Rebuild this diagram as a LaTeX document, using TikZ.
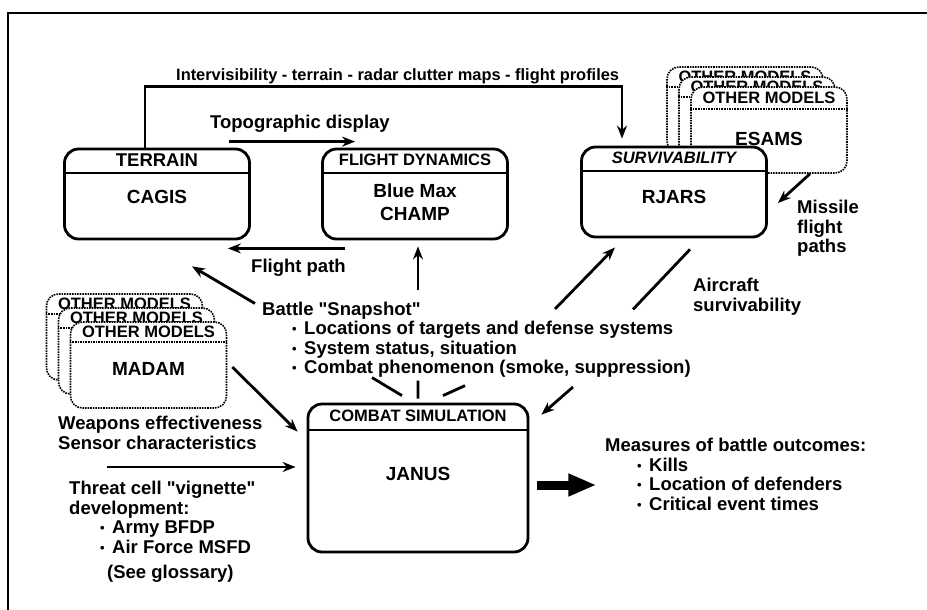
\documentclass[tikz,border=0pt]{standalone}
\usepackage{fontspec}
\setmainfont{Liberation Sans}
\usetikzlibrary{arrows.meta}
\tikzset{>={Stealth[length=13pt,width=10pt]}}
\tikzset{
  model/.style={draw, line width=2.8pt, fill=white, rounded corners=14pt,
    minimum width=185pt, minimum height=90pt, inner sep=0pt},
  card/.style={draw, densely dotted, line width=1.6pt, fill=white,
    rounded corners=12pt, minimum width=156pt, minimum height=86pt, inner sep=0pt},
  head/.style={font=\bfseries\fontsize{16.5}{18}\selectfont, inner sep=0pt},
  body/.style={font=\bfseries\fontsize{19}{23}\selectfont, inner sep=0pt, align=center},
  txt/.style={font=\bfseries\fontsize{18.5}{19.5}\selectfont, inner sep=0pt,
    align=left, anchor=north west},
  flow/.style={->, line width=2.8pt},
}
\newcommand{\bul}{\makebox[12pt][l]{\raisebox{1pt}{\fontsize{13}{13}\selectfont\textbullet}}}
\newcommand{\qq}{\textquotedbl}

\begin{document}
\begin{tikzpicture}[x=1pt, y=-1pt]
  \useasboundingbox (0,0) rectangle (927,610);
  \draw[line width=2pt] (8,610) -- (8,13) -- (927,13);

  % terrain and flight dynamics models
  \node[model] (terrain) at (157,194) {};
  \draw[line width=2.2pt] ([yshift=-25pt]terrain.north west) -- ([yshift=-25pt]terrain.north east);
  \node[head, font=\bfseries\fontsize{18.5}{20}\selectfont] (terrain-h) at ([yshift=-12.5pt]terrain.north) {TERRAIN};
  \node[body] (cagis) at ([yshift=-49pt]terrain.north) {CAGIS};

  \node[model] (fd) at (415,194) {};
  \draw[line width=2.2pt] ([yshift=-25pt]fd.north west) -- ([yshift=-25pt]fd.north east);
  \node[head] (fd-h) at ([yshift=-12.5pt]fd.north) {FLIGHT DYNAMICS};
  \node[body] (bluemax) at ([yshift=-55pt]fd.north) {Blue Max\\CHAMP};

  % other models behind survivability
  \foreach \i/\x/\y in {2/745/110, 1/757/120} {
    \node[card] (esams-\i) at (\x,\y) {};
    \draw[densely dotted, line width=1.6pt] ([yshift=-21pt]esams-\i.north west) -- ([yshift=-21pt]esams-\i.north east);
    \node[head] at ([yshift=-10.5pt]esams-\i.north) {OTHER MODELS};
  }
  \node[card] (esams) at (769,130) {};
  \draw[densely dotted, line width=1.6pt] ([yshift=-23pt]esams.north west) -- ([yshift=-23pt]esams.north east);
  \node[head] (esams-h) at ([yshift=-11.5pt]esams.north) {OTHER MODELS};
  \node[body] (esams-t) at ([yshift=-53pt]esams.north) {ESAMS};

  \node[model] (rjars) at (674,192) {};
  \draw[line width=2.2pt] ([yshift=-25pt]rjars.north west) -- ([yshift=-25pt]rjars.north east);
  \node[head, font=\bfseries\itshape\fontsize{16.5}{18}\selectfont] (rjars-h) at ([yshift=-12.5pt]rjars.north) {SURVIVABILITY};
  \node[body] (rjars-t) at ([yshift=-51pt]rjars.north) {RJARS};

  % other models for janus
  \foreach \i/\x/\y in {2/124.5/337, 1/136.5/351} {
    \node[card] (madam-\i) at (\x,\y) {};
    \draw[densely dotted, line width=1.6pt] ([yshift=-21pt]madam-\i.north west) -- ([yshift=-21pt]madam-\i.north east);
    \node[head] at ([yshift=-10.5pt]madam-\i.north) {OTHER MODELS};
  }
  \node[card] (madam) at (148.5,365) {};
  \draw[densely dotted, line width=1.6pt] ([yshift=-21pt]madam.north west) -- ([yshift=-21pt]madam.north east);
  \node[head] (madam-h) at ([yshift=-10.5pt]madam.north) {OTHER MODELS};
  \node[body] (madam-t) at ([yshift=-48pt]madam.north) {MADAM};

  \node[model, minimum width=220pt, minimum height=148pt] (combat) at (418,478) {};
  \draw[line width=2.2pt] ([yshift=-27pt]combat.north west) -- ([yshift=-27pt]combat.north east);
  \node[head] (combat-h) at ([yshift=-13.5pt]combat.north) {COMBAT SIMULATION};
  \node[body] (janus) at ([yshift=4pt]combat.center) {JANUS};

  % labels
  \node[txt, font=\bfseries\fontsize{16.4}{18}\selectfont] (links) at (176,68)
       {Intervisibility - terrain - radar clutter maps - flight profiles};
  \node[txt] (topo) at (210,114.5) {Topographic display};
  \node[txt] (fpath) at (251,258.5) {Flight path};
  \node[txt] (snap) at (262,301.5) {Battle \qq Snapshot\qq\\
       \hspace*{30pt}\bul Locations of targets and defense systems\\
       \hspace*{30pt}\bul System status, situation\\
       \hspace*{30pt}\bul Combat phenomenon (smoke, suppression)};
  \node[txt] (acsurv) at (693,278) {Aircraft\\survivability};
  \node[txt] (missile) at (797,200) {Missile\\flight\\paths};
  \node[txt] (weapons) at (58,416) {Weapons effectiveness\\Sensor characteristics};
  \node[txt] (threat) at (69,481) {Threat cell \qq vignette\qq\\development:\\
       \hspace*{31pt}\bul Army BFDP\\
       \hspace*{31pt}\bul Air Force MSFD\\[6pt]
       \hspace*{38pt}(See glossary)};
  \node[txt] (measures) at (605,438) {Measures of battle outcomes:\\
       \hspace*{32pt}\bul Kills\\
       \hspace*{32pt}\bul Location of defenders\\
       \hspace*{32pt}\bul Critical event times};

  % flows
  \draw[flow, line width=2.2pt] ([xshift=-12pt]terrain.north) -- ++(0,-61) -| ([xshift=-52pt,yshift=7pt]rjars.north);
  \draw[flow] ([xshift=-22pt,yshift=6pt]terrain.north east) -- ([xshift=34pt,yshift=6pt]fd.north west);
  \draw[flow] ([xshift=24pt,yshift=-8pt]fd.south west) -- ([xshift=-23pt,yshift=-8pt]terrain.south east);
  \draw[flow] ([xshift=-7pt,yshift=-2pt]snap.north west) -- ([xshift=35pt,yshift=-26pt]terrain.south);
  \coordinate (snap-up) at (418,290);
  \draw[flow] (snap-up) -- ([xshift=3pt,yshift=-6pt]fd.south);
  \coordinate (snap-rj) at (555,309);
  \draw[flow] (snap-rj) -- ([xshift=-59pt,yshift=-9pt]rjars.south);
  \draw[line width=2.8pt] ([xshift=16pt,yshift=-11pt]rjars.south) -- ++(-57,60);
  \coordinate (surv-in) at (573,387);
  \draw[flow] (surv-in) -- ([xshift=12pt,yshift=-12pt]combat.north east);
  \draw[flow] ([xshift=41pt]esams.south) -- ([xshift=10pt,yshift=-11pt]rjars.east);
  \draw[line width=2.8pt] ([shift={(-46,-25)}]combat.north) -- ++(30,18)
                          ([shift={(0,-22)}]combat.north) -- ++(0,18)
                          ([shift={(47,-17)}]combat.north) -- ++(-22,10);
  \draw[flow] ([xshift=5pt,yshift=-2pt]madam.east) -- ([xshift=-9pt,yshift=-29pt]combat.north west);
  \draw[flow] ([xshift=38pt,yshift=14pt]threat.north west) -- ([xshift=-11pt,yshift=11pt]combat.west);
  \draw[-{Triangle[length=28pt,width=21pt]}, line width=9pt] ([xshift=8pt,yshift=-7pt]combat.east) -- ++(59,0);
\end{tikzpicture}
\end{document}
